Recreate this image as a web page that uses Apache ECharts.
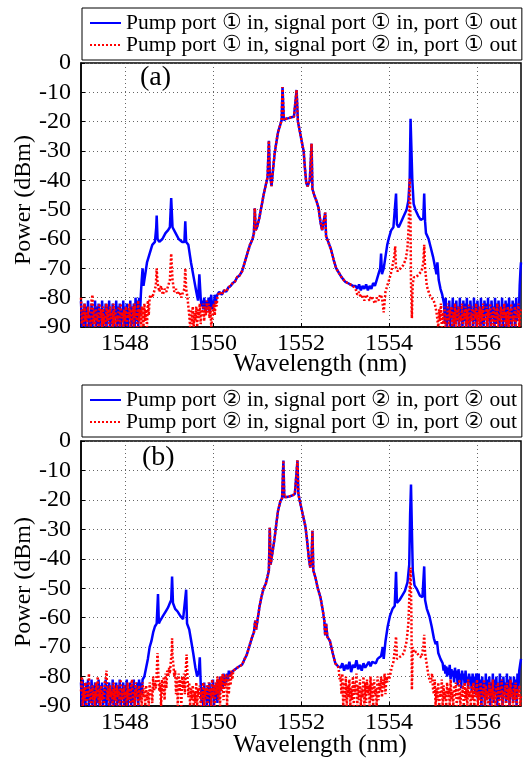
<!DOCTYPE html>
<html><head><meta charset="utf-8">
<script src="https://cdn.jsdelivr.net/npm/echarts@6/dist/echarts.min.js"></script>
<style>html,body{margin:0;padding:0;background:#fff}#c{width:524px;height:758px}</style>
</head><body><div id="c"></div><script>
// ---------- tick labels / legend texts ----------
const xTicks = [1548, 1550, 1552, 1554, 1556];
const legendA = ['Pump port \u2460 in, signal port \u2460 in, port \u2460 out', 'Pump port \u2460 in, signal port \u2461 in, port \u2460 out'];
const legendB = ['Pump port \u2461 in, signal port \u2461 in, port \u2461 out', 'Pump port \u2461 in, signal port \u2460 in, port \u2461 out'];

// ---------- panel (a) data: [wavelength nm, power dBm] ----------
const aBlueLeft = [[1547.00,-81],[1547.02,-90],[1547.04,-84],[1547.06,-89],[1547.08,-82],[1547.10,-90],[1547.12,-83],[1547.14,-88],[1547.16,-81],[1547.18,-90],[1547.20,-85],[1547.22,-89],[1547.24,-82],[1547.26,-90],[1547.28,-84],[1547.30,-87],[1547.32,-81],[1547.34,-90],[1547.36,-83],[1547.38,-89],[1547.40,-82],[1547.42,-90],[1547.44,-85],[1547.46,-88],[1547.48,-81],[1547.50,-90],[1547.52,-84],[1547.54,-89],[1547.56,-82],[1547.58,-90],[1547.60,-83],[1547.62,-88],[1547.64,-81],[1547.66,-90],[1547.68,-85],[1547.70,-89],[1547.72,-82],[1547.74,-90],[1547.76,-84],[1547.78,-87],[1547.80,-81],[1547.82,-90],[1547.84,-83],[1547.86,-89],[1547.88,-82],[1547.90,-90],[1547.92,-84],[1547.94,-88],[1547.96,-81],[1547.98,-90],[1548.00,-83],[1548.02,-89],[1548.04,-82],[1548.06,-90],[1548.08,-84],[1548.10,-87],[1548.12,-81],[1548.14,-90],[1548.16,-83],[1548.18,-89],[1548.20,-82],[1548.22,-90],[1548.24,-80],[1548.26,-88],[1548.28,-81],[1548.30,-90],[1548.32,-80],[1548.34,-86],[1548.36,-79],[1548.38,-74],[1548.40,-70],[1548.42,-76],[1548.46,-72],[1548.50,-68],[1548.56,-65],[1548.62,-62],[1548.68,-61],[1548.71,-56],[1548.72,-52],[1548.74,-60],[1548.78,-61],[1548.85,-60],[1548.92,-58],[1548.98,-57],[1549.02,-56],[1549.05,-46],[1549.08,-56],[1549.15,-58],[1549.22,-60],[1549.30,-61],[1549.35,-61],[1549.37,-54],[1549.39,-61],[1549.44,-62],[1549.50,-68],[1549.56,-73],[1549.62,-78],[1549.66,-81],[1549.69,-72],[1549.72,-80],[1549.74,-83],[1549.76,-81],[1549.78,-84],[1549.80,-80],[1549.82,-83],[1549.84,-85],[1549.86,-81],[1549.88,-84],[1549.90,-80],[1549.92,-85],[1549.94,-82],[1549.96,-79],[1549.98,-84],[1550.00,-81],[1550.02,-83],[1550.04,-79],[1550.06,-82],[1550.08,-80],[1550.10,-79]];
const aRedLeft = [[1547.00,-80],[1547.02,-89],[1547.04,-84],[1547.06,-90],[1547.08,-82],[1547.10,-88],[1547.12,-85],[1547.14,-90],[1547.16,-83],[1547.18,-87],[1547.20,-86],[1547.22,-90],[1547.24,-81],[1547.26,-79],[1547.28,-89],[1547.30,-84],[1547.32,-90],[1547.34,-83],[1547.36,-88],[1547.38,-85],[1547.40,-90],[1547.42,-82],[1547.44,-87],[1547.46,-84],[1547.48,-90],[1547.50,-83],[1547.52,-89],[1547.54,-86],[1547.56,-90],[1547.58,-82],[1547.60,-88],[1547.62,-84],[1547.64,-90],[1547.66,-83],[1547.68,-87],[1547.70,-85],[1547.72,-90],[1547.74,-82],[1547.76,-89],[1547.78,-84],[1547.80,-90],[1547.82,-86],[1547.84,-88],[1547.86,-83],[1547.88,-90],[1547.90,-82],[1547.92,-87],[1547.94,-85],[1547.96,-90],[1547.98,-84],[1548.00,-88],[1548.02,-83],[1548.04,-90],[1548.06,-85],[1548.08,-87],[1548.10,-82],[1548.12,-90],[1548.14,-84],[1548.16,-88],[1548.18,-83],[1548.20,-90],[1548.22,-82],[1548.24,-87],[1548.26,-85],[1548.28,-90],[1548.30,-81],[1548.32,-88],[1548.34,-84],[1548.36,-90],[1548.38,-83],[1548.40,-86],[1548.42,-90],[1548.44,-82],[1548.46,-88],[1548.48,-84],[1548.50,-90],[1548.52,-81],[1548.54,-86],[1548.56,-80],[1548.58,-79],[1548.62,-80],[1548.66,-78],[1548.70,-76],[1548.72,-70],[1548.74,-75],[1548.78,-78],[1548.82,-76],[1548.86,-79],[1548.90,-77],[1548.94,-78],[1548.98,-76],[1549.02,-74],[1549.05,-65],[1549.08,-74],[1549.12,-78],[1549.16,-77],[1549.20,-79],[1549.24,-78],[1549.28,-80],[1549.32,-78],[1549.35,-77],[1549.37,-70],[1549.39,-77],[1549.42,-80],[1549.44,-83],[1549.46,-86],[1549.48,-90],[1549.50,-84],[1549.52,-89],[1549.54,-83],[1549.56,-90],[1549.58,-85],[1549.60,-88],[1549.62,-83],[1549.64,-90],[1549.66,-84],[1549.68,-87],[1549.70,-82],[1549.72,-89],[1549.74,-84],[1549.76,-86],[1549.78,-82],[1549.80,-88],[1549.82,-83],[1549.84,-86],[1549.86,-81],[1549.88,-85],[1549.90,-82],[1549.92,-87],[1549.94,-83],[1549.96,-90],[1549.98,-90],[1550.00,-84],[1550.02,-82],[1550.04,-86],[1550.06,-81],[1550.08,-83],[1550.10,-80]];
const aCenter = [[1550.14,-78],[1550.20,-79],[1550.25,-77.5],[1550.30,-78],[1550.35,-76.5],[1550.40,-76],[1550.45,-75],[1550.50,-74.5],[1550.55,-73],[1550.60,-72.5],[1550.66,-71],[1550.72,-68],[1550.78,-65],[1550.84,-62],[1550.90,-60],[1550.93,-58],[1550.95,-49.5],[1550.97,-57],[1551.00,-56],[1551.05,-53],[1551.10,-49],[1551.15,-45],[1551.20,-41.5],[1551.24,-39],[1551.27,-26.5],[1551.29,-37],[1551.33,-42],[1551.36,-37],[1551.40,-31],[1551.44,-27],[1551.48,-23.5],[1551.53,-21],[1551.56,-19.5],[1551.58,-8.2],[1551.61,-19.5],[1551.66,-19],[1551.72,-18.8],[1551.78,-18.5],[1551.84,-18.3],[1551.88,-18],[1551.90,-9.2],[1551.93,-20],[1551.97,-23],[1552.02,-27],[1552.06,-30],[1552.09,-36],[1552.12,-41],[1552.15,-42],[1552.20,-40],[1552.24,-27.5],[1552.26,-43],[1552.30,-45],[1552.35,-47],[1552.40,-49.5],[1552.44,-54],[1552.48,-57],[1552.52,-57.5],[1552.55,-51],[1552.57,-59],[1552.62,-61],[1552.68,-63.5],[1552.74,-67],[1552.80,-70],[1552.86,-71.5],[1552.92,-73],[1553.00,-74.5],[1553.06,-75],[1553.12,-75.5],[1553.18,-76]];
const aBlueRight = [[1553.24,-76],[1553.28,-77],[1553.32,-75.5],[1553.36,-77.5],[1553.40,-76],[1553.44,-77],[1553.48,-75.5],[1553.52,-77.5],[1553.56,-76],[1553.60,-77],[1553.64,-75],[1553.68,-76],[1553.72,-74],[1553.76,-72],[1553.80,-70],[1553.82,-65],[1553.84,-72],[1553.88,-70],[1553.92,-66],[1553.96,-62],[1554.00,-59.5],[1554.05,-57],[1554.10,-56],[1554.14,-56],[1554.16,-44.5],[1554.18,-55],[1554.22,-56],[1554.28,-54],[1554.34,-52],[1554.40,-50],[1554.44,-47],[1554.47,-40],[1554.49,-19],[1554.51,-19.5],[1554.53,-40],[1554.56,-48],[1554.60,-50],[1554.66,-52],[1554.72,-53.5],[1554.78,-53],[1554.80,-44.5],[1554.82,-54],[1554.84,-58],[1554.90,-60],[1554.95,-63],[1555.00,-66],[1555.04,-69],[1555.08,-72],[1555.10,-68],[1555.13,-74],[1555.17,-77],[1555.21,-79],[1555.25,-82],[1555.27,-89],[1555.29,-80],[1555.31,-90],[1555.33,-83],[1555.35,-88],[1555.37,-81],[1555.39,-90],[1555.41,-84],[1555.43,-87],[1555.45,-80],[1555.47,-90],[1555.49,-82],[1555.51,-89],[1555.53,-81],[1555.55,-88],[1555.57,-83],[1555.59,-90],[1555.61,-80],[1555.63,-87],[1555.65,-84],[1555.67,-90],[1555.69,-81],[1555.71,-88],[1555.73,-82],[1555.75,-90],[1555.77,-80],[1555.79,-89],[1555.81,-83],[1555.83,-90],[1555.85,-81],[1555.87,-86],[1555.89,-84],[1555.91,-90],[1555.93,-80],[1555.95,-88],[1555.97,-82],[1555.99,-90],[1556.01,-81],[1556.03,-87],[1556.05,-84],[1556.07,-90],[1556.09,-80],[1556.11,-89],[1556.13,-83],[1556.15,-90],[1556.17,-81],[1556.19,-86],[1556.21,-82],[1556.23,-90],[1556.25,-80],[1556.27,-88],[1556.29,-84],[1556.31,-90],[1556.33,-81],[1556.35,-87],[1556.37,-83],[1556.39,-90],[1556.41,-80],[1556.43,-89],[1556.45,-82],[1556.47,-88],[1556.49,-81],[1556.51,-90],[1556.53,-84],[1556.55,-87],[1556.57,-80],[1556.59,-90],[1556.61,-83],[1556.63,-88],[1556.65,-81],[1556.67,-90],[1556.69,-82],[1556.71,-86],[1556.73,-80],[1556.75,-89],[1556.77,-84],[1556.79,-90],[1556.81,-81],[1556.83,-87],[1556.85,-82],[1556.87,-90],[1556.89,-80],[1556.91,-88],[1556.93,-83],[1556.95,-86],[1556.97,-76],[1556.99,-70],[1557.00,-68]];
const aRedRight = [[1553.24,-77],[1553.28,-79],[1553.32,-78],[1553.36,-80],[1553.40,-79],[1553.44,-81],[1553.48,-79],[1553.52,-80],[1553.56,-81],[1553.60,-79.5],[1553.64,-80],[1553.68,-82],[1553.72,-80],[1553.76,-81],[1553.80,-79],[1553.84,-80],[1553.88,-85],[1553.92,-78],[1553.96,-76],[1554.00,-74],[1554.04,-72],[1554.08,-69],[1554.12,-66],[1554.14,-62.5],[1554.16,-70],[1554.20,-71],[1554.26,-70],[1554.32,-69],[1554.38,-67],[1554.42,-63],[1554.45,-55],[1554.47,-39.5],[1554.49,-55],[1554.50,-75],[1554.52,-87],[1554.54,-75],[1554.57,-73],[1554.62,-73],[1554.68,-72],[1554.74,-71],[1554.78,-68],[1554.80,-62],[1554.82,-70],[1554.86,-76],[1554.90,-78],[1554.95,-80],[1555.00,-80.5],[1555.04,-82],[1555.08,-85],[1555.12,-90],[1555.14,-84],[1555.16,-88],[1555.18,-82],[1555.20,-90],[1555.22,-85],[1555.24,-89],[1555.26,-83],[1555.28,-90],[1555.30,-86],[1555.32,-88],[1555.34,-82],[1555.36,-90],[1555.38,-84],[1555.40,-87],[1555.42,-83],[1555.44,-90],[1555.46,-85],[1555.48,-89],[1555.50,-82],[1555.52,-90],[1555.54,-84],[1555.56,-88],[1555.58,-83],[1555.60,-90],[1555.62,-86],[1555.64,-88],[1555.66,-82],[1555.68,-90],[1555.70,-85],[1555.72,-87],[1555.74,-83],[1555.76,-90],[1555.78,-84],[1555.80,-89],[1555.82,-82],[1555.84,-90],[1555.86,-85],[1555.88,-88],[1555.90,-83],[1555.92,-90],[1555.94,-84],[1555.96,-87],[1555.98,-82],[1556.00,-90],[1556.02,-85],[1556.04,-89],[1556.06,-83],[1556.08,-90],[1556.10,-84],[1556.12,-88],[1556.14,-82],[1556.16,-90],[1556.18,-86],[1556.20,-88],[1556.22,-83],[1556.24,-90],[1556.26,-84],[1556.28,-87],[1556.30,-82],[1556.32,-90],[1556.34,-85],[1556.36,-89],[1556.38,-83],[1556.40,-90],[1556.42,-84],[1556.44,-88],[1556.46,-82],[1556.48,-90],[1556.50,-86],[1556.52,-88],[1556.54,-83],[1556.56,-90],[1556.58,-84],[1556.60,-87],[1556.62,-82],[1556.64,-90],[1556.66,-85],[1556.68,-89],[1556.70,-83],[1556.72,-90],[1556.74,-84],[1556.76,-88],[1556.78,-82],[1556.80,-90],[1556.82,-86],[1556.84,-88],[1556.86,-83],[1556.88,-90],[1556.90,-84],[1556.92,-87],[1556.94,-82],[1556.96,-90],[1556.98,-85],[1557.00,-84]];

// ---------- panel (b) data ----------
const bBlueLeft = [[1547.00,-82],[1547.02,-90],[1547.04,-81],[1547.06,-89],[1547.08,-84],[1547.10,-90],[1547.12,-82],[1547.14,-88],[1547.16,-81],[1547.18,-90],[1547.20,-85],[1547.22,-89],[1547.24,-81],[1547.26,-90],[1547.28,-83],[1547.30,-87],[1547.32,-82],[1547.34,-90],[1547.36,-84],[1547.38,-89],[1547.40,-81],[1547.42,-90],[1547.44,-83],[1547.46,-88],[1547.48,-82],[1547.50,-90],[1547.52,-84],[1547.54,-89],[1547.56,-81],[1547.58,-90],[1547.60,-83],[1547.62,-87],[1547.64,-82],[1547.66,-90],[1547.68,-85],[1547.70,-89],[1547.72,-81],[1547.74,-90],[1547.76,-84],[1547.78,-88],[1547.80,-82],[1547.82,-90],[1547.84,-83],[1547.86,-89],[1547.88,-81],[1547.90,-90],[1547.92,-84],[1547.94,-87],[1547.96,-82],[1547.98,-90],[1548.00,-83],[1548.02,-89],[1548.04,-81],[1548.06,-90],[1548.08,-84],[1548.10,-88],[1548.12,-82],[1548.14,-90],[1548.16,-83],[1548.18,-89],[1548.20,-81],[1548.22,-90],[1548.24,-84],[1548.26,-87],[1548.28,-82],[1548.30,-90],[1548.32,-81],[1548.34,-88],[1548.36,-82],[1548.38,-86],[1548.40,-81],[1548.44,-80],[1548.48,-77],[1548.52,-74],[1548.56,-70],[1548.60,-68],[1548.64,-65],[1548.68,-63],[1548.72,-62],[1548.75,-52],[1548.77,-62],[1548.80,-61],[1548.86,-59.5],[1548.92,-58],[1548.98,-56.5],[1549.02,-55],[1549.05,-54],[1549.07,-46],[1549.09,-55],[1549.14,-57],[1549.20,-58],[1549.26,-59.5],[1549.32,-60.5],[1549.36,-61],[1549.39,-50.5],[1549.41,-62],[1549.46,-64],[1549.50,-67.5],[1549.55,-72],[1549.60,-77],[1549.64,-80],[1549.68,-78],[1549.70,-73.5],[1549.72,-82],[1549.74,-89],[1549.76,-84],[1549.78,-90],[1549.80,-82],[1549.82,-88],[1549.84,-85],[1549.86,-90],[1549.88,-83],[1549.90,-89],[1549.92,-82],[1549.94,-90],[1549.96,-84],[1549.98,-87],[1550.00,-81],[1550.02,-90],[1550.04,-83],[1550.06,-88],[1550.08,-82],[1550.10,-89],[1550.12,-81],[1550.14,-86],[1550.16,-80],[1550.18,-85],[1550.20,-81],[1550.22,-84],[1550.24,-79],[1550.26,-83],[1550.28,-80],[1550.30,-82],[1550.32,-79],[1550.34,-81],[1550.36,-78],[1550.38,-80],[1550.40,-79]];
const bRedLeft = [[1547.00,-85],[1547.02,-80],[1547.04,-90],[1547.06,-84],[1547.08,-88],[1547.10,-82],[1547.12,-90],[1547.14,-85],[1547.16,-87],[1547.18,-79],[1547.20,-89],[1547.22,-84],[1547.24,-90],[1547.26,-83],[1547.28,-88],[1547.30,-85],[1547.32,-90],[1547.34,-82],[1547.36,-87],[1547.38,-80],[1547.40,-89],[1547.42,-84],[1547.44,-90],[1547.46,-83],[1547.48,-88],[1547.50,-85],[1547.52,-90],[1547.54,-82],[1547.56,-81],[1547.58,-78],[1547.60,-88],[1547.62,-84],[1547.64,-90],[1547.66,-83],[1547.68,-87],[1547.70,-85],[1547.72,-90],[1547.74,-82],[1547.76,-88],[1547.78,-84],[1547.80,-90],[1547.82,-83],[1547.84,-87],[1547.86,-85],[1547.88,-90],[1547.90,-81],[1547.92,-88],[1547.94,-84],[1547.96,-90],[1547.98,-83],[1548.00,-87],[1548.02,-85],[1548.04,-90],[1548.06,-82],[1548.08,-88],[1548.10,-84],[1548.12,-90],[1548.14,-83],[1548.16,-81],[1548.18,-89],[1548.20,-85],[1548.22,-90],[1548.24,-82],[1548.26,-87],[1548.28,-84],[1548.30,-90],[1548.32,-83],[1548.34,-88],[1548.36,-85],[1548.38,-90],[1548.40,-82],[1548.42,-87],[1548.44,-84],[1548.46,-90],[1548.48,-83],[1548.50,-88],[1548.52,-85],[1548.54,-90],[1548.56,-82],[1548.58,-86],[1548.60,-84],[1548.62,-89],[1548.64,-80],[1548.66,-85],[1548.68,-82],[1548.70,-84],[1548.72,-79],[1548.74,-72],[1548.76,-80],[1548.78,-85],[1548.80,-82],[1548.82,-90],[1548.84,-81],[1548.86,-86],[1548.88,-80],[1548.90,-88],[1548.92,-79],[1548.94,-84],[1548.96,-78],[1548.98,-80],[1549.00,-77],[1549.02,-79],[1549.04,-75],[1549.06,-72],[1549.07,-67],[1549.08,-73],[1549.10,-76],[1549.12,-80],[1549.14,-78],[1549.16,-86],[1549.18,-80],[1549.20,-90],[1549.22,-79],[1549.24,-85],[1549.26,-81],[1549.28,-90],[1549.30,-80],[1549.32,-84],[1549.34,-79],[1549.36,-86],[1549.38,-78],[1549.40,-72.5],[1549.42,-80],[1549.44,-87],[1549.46,-82],[1549.48,-90],[1549.50,-84],[1549.52,-88],[1549.54,-83],[1549.56,-90],[1549.58,-85],[1549.60,-89],[1549.62,-82],[1549.64,-90],[1549.66,-84],[1549.68,-87],[1549.70,-83],[1549.72,-90],[1549.74,-85],[1549.76,-88],[1549.78,-82],[1549.80,-90],[1549.82,-84],[1549.84,-87],[1549.86,-83],[1549.88,-90],[1549.90,-82],[1549.92,-86],[1549.94,-84],[1549.96,-90],[1549.98,-81],[1550.00,-87],[1550.02,-83],[1550.04,-90],[1550.06,-82],[1550.08,-86],[1550.10,-80],[1550.12,-88],[1550.14,-81],[1550.16,-90],[1550.18,-80],[1550.20,-85],[1550.22,-79],[1550.24,-88],[1550.26,-80],[1550.28,-84],[1550.30,-79],[1550.32,-90],[1550.34,-80],[1550.36,-86],[1550.38,-79],[1550.40,-83],[1550.42,-78],[1550.44,-81]];
const bCenter = [[1550.46,-78],[1550.50,-77.5],[1550.55,-77],[1550.60,-76.5],[1550.66,-76],[1550.72,-74],[1550.77,-72.5],[1550.82,-70],[1550.88,-67],[1550.93,-65],[1550.96,-61],[1550.98,-64],[1551.02,-60],[1551.06,-56],[1551.10,-53],[1551.15,-50],[1551.20,-48.5],[1551.24,-46],[1551.27,-44],[1551.29,-29.5],[1551.31,-42],[1551.35,-38],[1551.40,-33],[1551.44,-28],[1551.48,-23.5],[1551.53,-20.5],[1551.57,-19.5],[1551.60,-6.6],[1551.62,-19],[1551.68,-19],[1551.74,-18.8],[1551.80,-18.5],[1551.86,-18],[1551.90,-17.5],[1551.92,-6.6],[1551.94,-18],[1551.99,-21.5],[1552.04,-25],[1552.10,-29],[1552.14,-34],[1552.18,-40],[1552.21,-43],[1552.24,-40],[1552.26,-30.5],[1552.28,-44],[1552.33,-46.5],[1552.38,-50],[1552.44,-53],[1552.49,-57],[1552.53,-61],[1552.55,-66],[1552.57,-62],[1552.60,-66.5],[1552.66,-68],[1552.72,-72],[1552.78,-75.5],[1552.84,-76.5]];
const bBlueRight = [[1552.90,-77],[1552.94,-75.5],[1552.98,-78],[1553.02,-76],[1553.06,-77.5],[1553.10,-75],[1553.14,-78.5],[1553.18,-76],[1553.22,-77],[1553.26,-74.5],[1553.30,-77.5],[1553.34,-76],[1553.38,-78],[1553.42,-75.5],[1553.46,-77],[1553.50,-76],[1553.54,-75],[1553.58,-76.5],[1553.62,-75],[1553.66,-74.5],[1553.70,-75.5],[1553.74,-74],[1553.78,-73.5],[1553.82,-73],[1553.86,-70],[1553.88,-74],[1553.92,-68],[1553.97,-63],[1554.02,-59.5],[1554.08,-57],[1554.13,-56],[1554.16,-44.4],[1554.18,-55],[1554.24,-54],[1554.30,-52.5],[1554.36,-51],[1554.42,-48],[1554.46,-42],[1554.48,-25],[1554.50,-14.8],[1554.52,-30],[1554.54,-44],[1554.58,-49],[1554.64,-50.5],[1554.70,-52.5],[1554.76,-53],[1554.80,-42.6],[1554.82,-54],[1554.86,-57],[1554.92,-59.6],[1554.97,-63],[1555.02,-67],[1555.06,-69],[1555.09,-68],[1555.12,-72],[1555.17,-74],[1555.22,-75.5],[1555.24,-78],[1555.26,-76],[1555.28,-79],[1555.30,-76.5],[1555.32,-80],[1555.34,-77],[1555.36,-79.5],[1555.38,-76],[1555.40,-81],[1555.42,-77.5],[1555.44,-80],[1555.46,-78],[1555.48,-82],[1555.50,-77],[1555.52,-80.5],[1555.54,-78],[1555.56,-83],[1555.58,-77.5],[1555.60,-81],[1555.62,-79],[1555.64,-84],[1555.66,-78],[1555.68,-81],[1555.70,-79],[1555.72,-83],[1555.74,-78],[1555.76,-82],[1555.78,-80],[1555.80,-84],[1555.82,-79],[1555.84,-82],[1555.86,-80],[1555.88,-85],[1555.90,-79],[1555.92,-83],[1555.94,-80],[1555.96,-86],[1555.98,-79],[1556.00,-80],[1556.02,-88],[1556.04,-79],[1556.06,-86],[1556.08,-81],[1556.10,-90],[1556.12,-80],[1556.14,-87],[1556.16,-82],[1556.18,-90],[1556.20,-79],[1556.22,-88],[1556.24,-81],[1556.26,-86],[1556.28,-80],[1556.30,-90],[1556.32,-82],[1556.34,-87],[1556.36,-79],[1556.38,-89],[1556.40,-81],[1556.42,-86],[1556.44,-80],[1556.46,-90],[1556.48,-82],[1556.50,-88],[1556.52,-79],[1556.54,-87],[1556.56,-81],[1556.58,-90],[1556.60,-80],[1556.62,-86],[1556.64,-82],[1556.66,-89],[1556.68,-79],[1556.70,-88],[1556.72,-81],[1556.74,-90],[1556.76,-80],[1556.78,-87],[1556.80,-82],[1556.82,-89],[1556.84,-80],[1556.86,-86],[1556.88,-81],[1556.90,-90],[1556.92,-79],[1556.94,-85],[1556.96,-78],[1556.98,-76],[1557.00,-74]];
const bRedRight = [[1552.86,-78],[1552.88,-81],[1552.90,-80],[1552.92,-86],[1552.94,-79],[1552.96,-90],[1552.98,-82],[1553.00,-88],[1553.02,-80],[1553.04,-90],[1553.06,-83],[1553.08,-87],[1553.10,-81],[1553.12,-90],[1553.14,-84],[1553.16,-88],[1553.18,-80],[1553.20,-90],[1553.22,-82],[1553.24,-86],[1553.26,-79],[1553.28,-90],[1553.30,-83],[1553.32,-88],[1553.34,-81],[1553.36,-90],[1553.38,-84],[1553.40,-87],[1553.42,-80],[1553.44,-90],[1553.46,-82],[1553.48,-89],[1553.50,-81],[1553.52,-86],[1553.54,-83],[1553.56,-90],[1553.58,-80],[1553.60,-88],[1553.62,-82],[1553.64,-90],[1553.66,-81],[1553.68,-86],[1553.70,-84],[1553.72,-90],[1553.74,-80],[1553.76,-88],[1553.78,-82],[1553.80,-85],[1553.82,-80],[1553.84,-87],[1553.86,-81],[1553.88,-84],[1553.90,-79],[1553.92,-86],[1553.94,-80],[1553.96,-82],[1553.98,-79],[1554.00,-81],[1554.02,-80],[1554.06,-77],[1554.10,-75],[1554.14,-70],[1554.16,-66.4],[1554.18,-74],[1554.22,-74],[1554.28,-73],[1554.34,-72],[1554.40,-68],[1554.44,-62],[1554.47,-50],[1554.49,-43],[1554.51,-60],[1554.52,-84.5],[1554.54,-70],[1554.57,-72],[1554.62,-71.5],[1554.68,-73],[1554.74,-73.5],[1554.78,-70],[1554.80,-65.8],[1554.82,-72],[1554.86,-76],[1554.90,-80],[1554.94,-82],[1554.98,-79],[1555.00,-84],[1555.02,-86],[1555.04,-81],[1555.06,-90],[1555.08,-84],[1555.10,-88],[1555.12,-82],[1555.14,-90],[1555.16,-85],[1555.18,-87],[1555.20,-81],[1555.22,-90],[1555.24,-83],[1555.26,-88],[1555.28,-85],[1555.30,-90],[1555.32,-82],[1555.34,-87],[1555.36,-84],[1555.38,-90],[1555.40,-81],[1555.42,-88],[1555.44,-85],[1555.46,-90],[1555.48,-83],[1555.50,-87],[1555.52,-82],[1555.54,-90],[1555.56,-84],[1555.58,-88],[1555.60,-81],[1555.62,-90],[1555.64,-85],[1555.66,-87],[1555.68,-83],[1555.70,-90],[1555.72,-82],[1555.74,-88],[1555.76,-84],[1555.78,-90],[1555.80,-81],[1555.82,-87],[1555.84,-85],[1555.86,-90],[1555.88,-83],[1555.90,-88],[1555.92,-82],[1555.94,-90],[1555.96,-84],[1555.98,-87],[1556.00,-81],[1556.02,-90],[1556.04,-85],[1556.06,-88],[1556.08,-82],[1556.10,-90],[1556.12,-84],[1556.14,-87],[1556.16,-81],[1556.18,-90],[1556.20,-83],[1556.22,-88],[1556.24,-85],[1556.26,-90],[1556.28,-82],[1556.30,-87],[1556.32,-84],[1556.34,-90],[1556.36,-81],[1556.38,-88],[1556.40,-85],[1556.42,-90],[1556.44,-83],[1556.46,-87],[1556.48,-82],[1556.50,-90],[1556.52,-84],[1556.54,-88],[1556.56,-81],[1556.58,-90],[1556.60,-85],[1556.62,-87],[1556.64,-83],[1556.66,-90],[1556.68,-82],[1556.70,-88],[1556.72,-84],[1556.74,-90],[1556.76,-81],[1556.78,-87],[1556.80,-85],[1556.82,-90],[1556.84,-83],[1556.86,-88],[1556.88,-82],[1556.90,-90],[1556.92,-84],[1556.94,-87],[1556.96,-83],[1556.98,-90],[1557.00,-86]];

// ---------- chart ----------
const FONT = '"Liberation Serif","Times New Roman",serif';
const chart = echarts.init(document.getElementById('c'), null, {renderer: 'canvas'});

function xAxisCfg(gi) {
  return {
    type: 'value', gridIndex: gi, min: 1547, max: 1557,
    axisLine: {show: true, onZero: false, lineStyle: {color: '#000', width: 1.5}},
    axisTick: {show: true, inside: true, length: 4, customValues: xTicks, lineStyle: {color: '#000'}},
    axisLabel: {customValues: xTicks, formatter: function (v) { return String(v); }, fontFamily: FONT, fontSize: 24, color: '#000', margin: 5},
    splitLine: {show: true, lineStyle: {color: '#666', type: [1, 3], width: 1}}
  };
}
function yAxisCfg(gi) {
  return {
    type: 'value', gridIndex: gi, min: -90, max: 0, interval: 10,
    axisLine: {show: true, onZero: false, lineStyle: {color: '#000', width: 1.5}},
    axisTick: {show: true, inside: true, length: 4, lineStyle: {color: '#000'}},
    axisLabel: {fontFamily: FONT, fontSize: 24, color: '#000', margin: 10},
    splitLine: {show: true, lineStyle: {color: '#666', type: [1, 3], width: 1}}
  };
}
function lineSeries(name, gi, data, blue) {
  return {
    name: name, type: 'line', xAxisIndex: gi, yAxisIndex: gi, data: data,
    symbol: 'none', showSymbol: false, animation: false, clip: true,
    lineStyle: blue ? {color: '#0000ff', width: 2.5} : {color: '#ff0000', width: 2.5, type: [2, 2]},
    itemStyle: {color: blue ? '#0000ff' : '#ff0000'}
  };
}
function legendCfg(names, top) {
  return {
    data: names, orient: 'vertical', left: 82, top: top, itemGap: 0,
    itemWidth: 31, itemHeight: 10, padding: [4, 5, 4, 7],
    borderColor: '#000', borderWidth: 1, backgroundColor: '#fff',
    selectedMode: false,
    itemStyle: {opacity: 0, borderWidth: 0},
    lineStyle: {width: 2},
    textStyle: {fontFamily: FONT, fontSize: 21.5, color: '#000', lineHeight: 19.5}
  };
}

chart.setOption({
  animation: false,
  backgroundColor: '#fff',
  grid: [
    {left: 81, top: 63, width: 440, height: 264, show: true, borderColor: '#000', borderWidth: 1.5, backgroundColor: 'transparent'},
    {left: 81, top: 441, width: 440, height: 265, show: true, borderColor: '#000', borderWidth: 1.5, backgroundColor: 'transparent'}
  ],
  xAxis: [xAxisCfg(0), xAxisCfg(1)],
  yAxis: [yAxisCfg(0), yAxisCfg(1)],
  legend: [legendCfg(legendA, 8), legendCfg(legendB, 385)],
  series: [
    lineSeries(legendA[0], 0, aBlueLeft.concat(aCenter, aBlueRight), true),
    lineSeries(legendA[1], 0, aRedLeft.concat(aCenter, aRedRight), false),
    lineSeries(legendB[0], 1, bBlueLeft.concat(bCenter, bBlueRight), true),
    lineSeries(legendB[1], 1, bRedLeft.concat(bCenter, bRedRight), false)
  ],
  graphic: [
    {type: 'text', left: 140, top: 64, style: {text: '(a)', font: '28px ' + FONT, fill: '#000'}},
    {type: 'text', left: 142, top: 444, style: {text: '(b)', font: '28px ' + FONT, fill: '#000'}},
    {type: 'text', x: 320, y: 364, style: {text: 'Wavelength (nm)', font: '25px ' + FONT, fill: '#000', align: 'center', verticalAlign: 'middle'}},
    {type: 'text', x: 320, y: 745, style: {text: 'Wavelength (nm)', font: '25px ' + FONT, fill: '#000', align: 'center', verticalAlign: 'middle'}},
    {type: 'text', x: 24, y: 200, rotation: Math.PI / 2, style: {text: 'Power (dBm)', font: '24px ' + FONT, fill: '#000', align: 'center', verticalAlign: 'middle'}},
    {type: 'text', x: 24, y: 582, rotation: Math.PI / 2, style: {text: 'Power (dBm)', font: '24px ' + FONT, fill: '#000', align: 'center', verticalAlign: 'middle'}}
  ]
});
</script></body></html>
